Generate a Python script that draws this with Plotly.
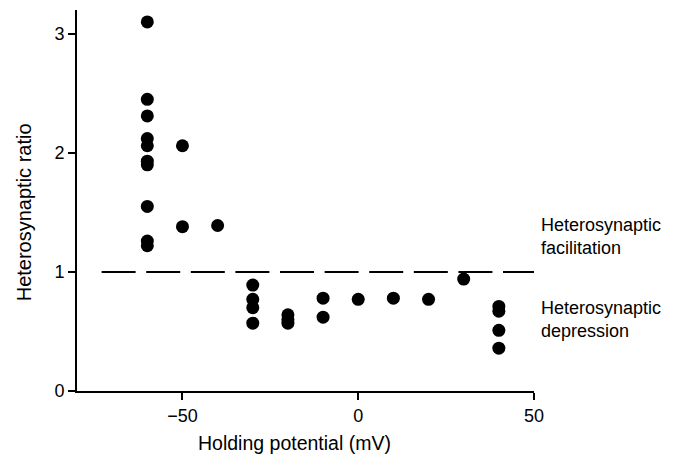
import plotly.graph_objects as go

# Holding potential (mV) and heterosynaptic ratio values
potential = [-60, -60, -60, -60, -60, -60, -60, -60, -60, -60,
             -50, -50, -40,
             -30, -30, -30, -30,
             -20, -20, -20,
             -10, -10,
             0, 10, 20, 30,
             40, 40, 40, 40]
ratio = [3.10, 2.45, 2.31, 2.12, 2.06, 1.93, 1.90, 1.55, 1.26, 1.22,
         2.06, 1.38, 1.39,
         0.89, 0.77, 0.70, 0.57,
         0.64, 0.60, 0.57,
         0.78, 0.62,
         0.77, 0.78, 0.77, 0.94,
         0.71, 0.67, 0.51, 0.36]

x_ticks = [-50, 0, 50]
x_tick_labels = ["\u221250", "0", "50"]
y_ticks = [0, 1, 2, 3]
ref_line = [-73, 50.5]
ref_value = [1, 1]

FONT = "Liberation Sans, Arial, Helvetica, sans-serif"

fig = go.Figure()
fig.add_trace(go.Scatter(
    x=ref_line, y=ref_value, mode="lines",
    line=dict(color="black", width=2, dash="34px,10.6px"),
    hoverinfo="skip", showlegend=False, cliponaxis=False))
fig.add_trace(go.Scatter(
    x=potential, y=ratio, mode="markers",
    marker=dict(color="black", size=13),
    showlegend=False, cliponaxis=False))

# page body has an 8px margin, so the figure is sized to fit the window
fig.update_layout(
    width=666, height=449,
    margin=dict(l=69, r=140, t=2, b=66, autoexpand=False),
    paper_bgcolor="white", plot_bgcolor="white",
    font=dict(family=FONT, color="black", size=18),
    xaxis=dict(range=[-80, 50], tickvals=x_ticks, ticktext=x_tick_labels,
               showline=True, linecolor="black", linewidth=2,
               ticks="outside", ticklen=7, tickwidth=2, tickcolor="black",
               showgrid=False, zeroline=False, automargin=False,
               tickfont=dict(size=18)),
    yaxis=dict(range=[0, 3.2], tickvals=y_ticks,
               showline=True, linecolor="black", linewidth=2,
               ticks="outside", ticklen=7, tickwidth=2, tickcolor="black",
               showgrid=False, zeroline=False, automargin=False,
               tickfont=dict(size=18)),
    annotations=[
        dict(text="Holding potential (mV)", xref="paper", yref="paper",
             x=0.477, y=-0.137, xanchor="center", yanchor="middle",
             showarrow=False, font=dict(size=19.5)),
        dict(text="Heterosynaptic ratio", xref="paper", yref="y",
             x=-0.114, y=1.50, xanchor="center", yanchor="middle",
             textangle=-90, showarrow=False, font=dict(size=20)),
        dict(text="Heterosynaptic<br>facilitation", xref="paper", yref="y",
             x=1.012, y=1.30, xanchor="left", yanchor="middle", align="left",
             showarrow=False, font=dict(size=18)),
        dict(text="Heterosynaptic<br>depression", xref="paper", yref="y",
             x=1.012, y=0.60, xanchor="left", yanchor="middle", align="left",
             showarrow=False, font=dict(size=18)),
    ],
)

fig.write_html("out.html")
